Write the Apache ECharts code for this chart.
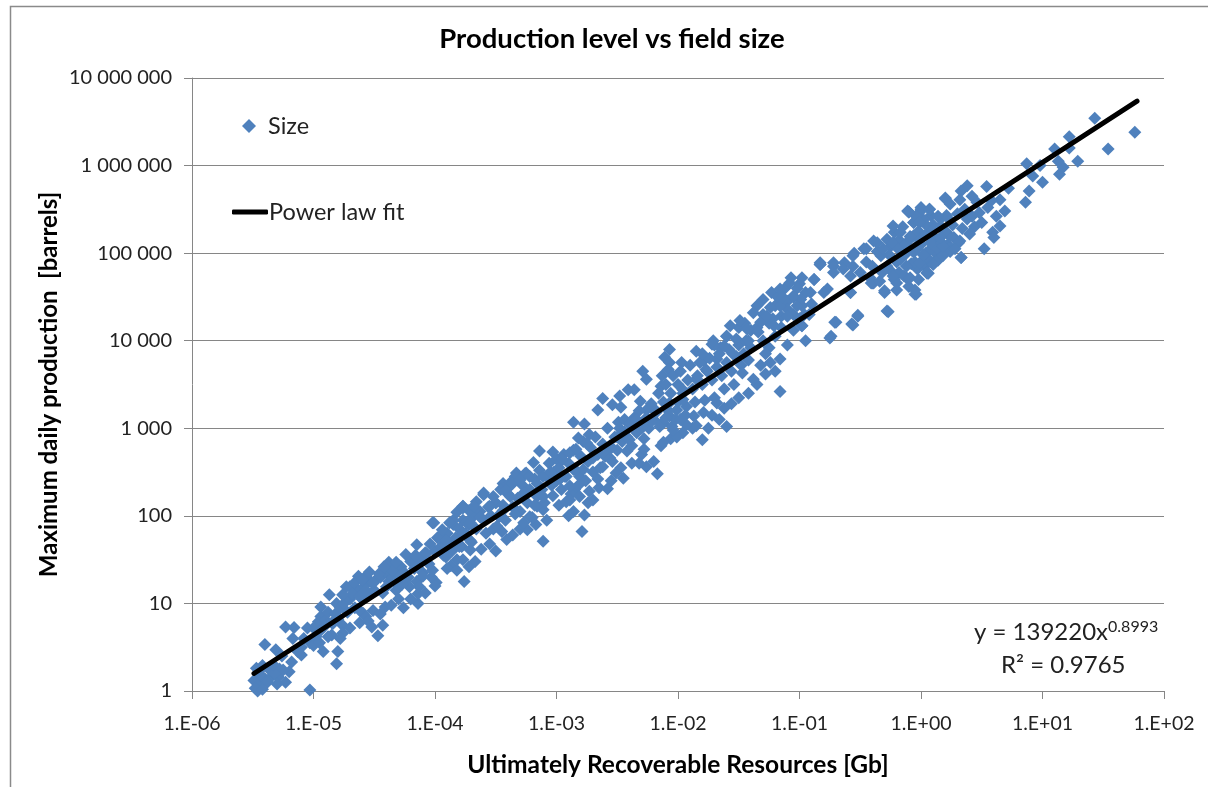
<!DOCTYPE html>
<html><head><meta charset="utf-8">
<style>html,body{margin:0;padding:0;background:#fff}#c{width:1208px;height:787px}</style>
<script src="https://cdn.jsdelivr.net/npm/echarts@6/dist/echarts.min.js"></script>
</head><body><div id="c"></div>
<script>
// Every pair is [log10(resources in Gb), log10(barrels per day)].
const tinyFields = [[-5.46,0],[-5.49,.12],[-5.47,.26],[-5.42,.29],[-5.44,.08],[-5.40,.14],[-5.35,.16],[-5.29,.16],[-5.23,.1],[-5.2,.22],[-5.25,.24],[-5.18,.33],[-5.28,.25],[-5.36,.24],[-5.48,.03],[-5.44,.18],[-5.32,.2],[-5.38,.1],[-5.40,.53],[-5.31,.47],[-5.23,.73],[-5.16,.725],[-5.17,.60],[-5.05,.72],[-5.10,.50],[-5.10,.41],[-5.03,.01],[-4.92,.45],[-4.80,.45],[-4.81,.31],[-5.03,.55],[-4.94,.96],[-4.94,.85],[-4.87,1.10],[-4.81,1.0],[-4.96,.79],[-4.90,.81],[-4.85,.64],[-4.76,.75],[-4.76,.66],[-4.59,.885],[-4.52,.73],[-4.43,.75],[-4.47,.63],[-4.41,.96],[-4.26,.95],[-4.14,1.0],[-4.14,1.11],[-3.99,1.24],[-3.76,1.25],[-3.87,1.43],[-3.67,1.48],[-3.77,1.50],[-4.02,1.92],[-4.15,1.67],[-4.24,1.56],[-4.38,1.47],[-4.63,1.31],[-4.73,1.19],[-3.77,2.11],[-3.66,2.16]];
const smallBand = [[-5.0,.72],[-4.98,.62],[-4.95,.68],[-4.9,.75],[-4.88,.9],[-4.85,.78],[-4.82,.88],[-4.8,.82],[-4.78,.95],[-4.75,1.0],[-4.72,.9],[-4.7,1.05],[-4.68,1.1],[-4.66,.95],[-4.63,1.15],[-4.6,1.05],[-4.58,1.2],[-4.55,1.1],[-4.53,1.25],[-4.5,1.15],[-4.48,1.28],[-4.45,1.3],[-4.43,1.12],[-4.4,1.35],[-4.38,1.25],[-4.35,1.3],[-4.33,1.38],[-4.3,1.2],[-4.28,1.42],[-4.25,1.35],[-4.22,1.3],[-4.2,1.48],[-4.17,1.4],[-4.15,1.25],[-4.12,1.5],[-4.1,1.35],[-4.08,1.58],[-4.05,1.45],[-4.03,1.3],[-4.0,1.6],[-3.98,1.75],[-3.95,1.65],[-3.93,1.55],[-3.9,1.8],[-3.88,1.7],[-3.86,1.6],[-3.85,1.9],[-3.83,1.75],[-3.8,1.85],[-3.78,1.65],[-3.77,1.95],[-3.75,1.8],[-3.72,1.9],[-3.7,1.7],[-3.68,2.0],[-3.66,1.85],[-3.63,2.05],[-3.6,1.95],[-3.58,1.8],[-3.56,2.1],[-3.54,2.0],[-3.52,1.85],[-3.5,2.15]];
const smallCore = [[-4.7,1.19],[-4.68,1.11],[-4.76,1.1],[-4.62,1.08],[-4.57,1.31],[-4.51,1.23],[-4.57,1.15],[-4.46,1.34],[-4.35,1.38],[-4.29,1.31],[-4.4,1.19],[-4.24,1.27],[-4.18,1.46],[-4.07,1.57],[-3.96,1.76],[-3.85,1.95],[-3.74,1.92],[-3.69,1.99],[-3.91,1.72],[-3.8,1.65],[-3.71,1.72],[-3.77,1.8],[-4.51,.92],[-4.57,.85],[-4.62,.92],[-4.84,.77],[-4.13,1.19],[-4.1,1.31],[-4.32,1.15],[-4.21,1.19],[-4.02,1.38],[-3.91,1.53],[-3.82,1.5],[-3.71,1.61],[-4.66,1.24],[-4.6,1.27],[-4.54,1.36],[-4.42,1.42],[-4.32,1.47],[-4.27,1.22],[-4.16,1.55],[-4.04,1.68],[-3.94,1.84],[-3.82,2.04],[-3.72,2.06]];
const lowerEdge = [[-5.33,.3],[-5.26,.4],[-5.13,.45],[-5.08,.6],[-5.0,.52],[-5.45,.22],[-5.42,.02],[-5.3,.08],[-4.95,.55],[-4.88,.62],[-4.78,.6],[-4.7,.72],[-4.62,.78],[-4.55,.8],[-4.45,.88],[-4.36,.98],[-4.3,1.05],[-4.2,1.05],[-4.08,1.12],[-4.0,1.2],[-3.9,1.4],[-3.82,1.38],[-3.72,1.42],[-3.62,1.62],[-3.55,1.68],[-3.5,1.6],[-3.45,1.82],[-3.3,1.85],[-3.17,1.9],[-3.08,1.95],[-2.98,2.12],[-2.7,2.18],[-2.65,2.32],[-2.55,2.4],[-2.47,2.55],[-2.38,2.6],[-2.3,2.7],[-2.2,2.62],[-2.14,2.8],[-2.06,2.88],[-1.96,2.95],[-1.88,3.0],[-1.72,3.15],[-1.66,3.1],[-1.56,3.28],[-1.5,3.35],[-1.42,3.4],[-1.35,3.5],[-1.28,3.62],[-1.2,3.65],[-.25,4.8],[-.18,4.78],[-.12,4.72],[-.08,4.88],[-.02,4.7],[.03,4.85],[.07,4.92],[.12,5.0],[.18,5.02],[.22,5.1],[.27,5.18],[.34,5.28],[.4,5.22],[.44,5.3],[-.2,4.58],[-.1,4.62]];
const midBand = [[-4.01,1.92],[-3.88,1.92],[-3.77,2.11],[-3.6,2.26],[-3.44,2.37],[-3.33,2.49],[-3.25,2.49],[-3.36,1.78],[-3.24,1.84],[-3.41,1.73],[-3.11,1.71],[-2.79,1.82],[-2.90,2.0],[-2.77,2.01],[-2.58,2.31],[-2.66,2.42],[-2.45,2.43],[-2.51,2.49],[-2.17,2.48],[-2.26,2.56],[-2.32,2.60],[-2.28,2.76],[-2.12,2.84],[-2.01,2.90],[-1.80,2.87],[-1.75,3.0],[-1.60,3.02],[-1.85,3.03],[-1.93,3.04],[-3.03,2.73],[-3.14,2.74],[-3.19,2.61],[-2.86,3.07],[-2.77,3.05],[-2.73,2.93],[-2.82,2.89],[-2.66,3.21],[-2.62,3.34],[-2.49,3.07],[-2.54,3.27],[-2.47,3.24],[-2.48,3.37],[-2.41,3.44],[-2.36,3.44],[-2.31,3.31],[-2.26,3.21],[-2.29,3.65],[-2.26,3.56],[-2.14,3.48],[-2.13,3.6],[-2.07,3.9],[-2.11,3.81],[-2.07,3.75],[-1.97,3.75],[-1.85,3.88],[-2.08,3.67],[-1.79,3.77],[-1.72,3.96],[-1.65,3.92],[-1.6,4.05],[-2.07,3.14],[-2.01,3.21],[-1.93,3.25],[-2.12,3.06],[-2.05,3.02],[-1.79,3.18],[-1.68,3.29],[-1.62,3.23],[-1.87,3.14],[-3.11,2.07],[-3.03,2.23],[-2.92,2.16],[-2.86,2.05],[-2.73,2.28],[-2.74,2.15],[-2.85,2.3],[-2.93,2.45],[-2.81,2.45],[-2.62,2.56],[-2.56,2.66],[-2.42,2.74]];
const midFill = [[-3.5,2.15],[-3.48,2.0],[-3.46,2.3],[-3.44,2.12],[-3.42,1.95],[-3.4,2.25],[-3.38,2.38],[-3.36,2.1],[-3.34,2.45],[-3.32,2.2],[-3.3,2.05],[-3.28,2.35],[-3.26,2.48],[-3.24,2.15],[-3.22,2.3],[-3.2,1.98],[-3.18,2.42],[-3.16,2.22],[-3.14,2.52],[-3.12,2.3],[-3.1,2.15],[-3.08,2.45],[-3.06,2.6],[-3.04,2.35],[-3.02,2.5],[-3.0,2.65],[-3.0,2.4],[-2.98,2.55],[-2.96,2.3],[-2.94,2.7],[-2.92,2.45],[-2.9,2.6],[-2.88,2.25],[-2.86,2.75],[-2.84,2.52],[-2.82,2.35],[-2.8,2.68],[-2.78,2.85],[-2.76,2.4],[-2.74,2.62],[-2.72,2.78],[-2.7,2.5],[-2.68,2.9],[-2.66,2.7],[-2.64,2.55],[-2.62,2.82],[-2.6,2.68],[-2.58,3.0],[-2.56,2.8],[-2.54,2.62],[-2.52,2.9],[-2.5,2.75],[-2.48,3.0],[-2.46,2.85],[-2.44,3.1],[-2.42,2.9],[-2.4,3.05],[-2.38,2.8],[-2.36,3.12],[-2.34,2.95],[-2.32,3.2],[-2.3,3.0],[-2.28,2.88],[-2.26,3.12],[-2.24,3.0],[-2.22,3.28],[-2.2,3.1],[-2.18,3.2],[-2.16,3.4],[-2.14,3.05],[-2.12,3.3],[-2.1,3.5],[-2.08,3.2],[-2.06,3.4],[-2.04,3.6],[-2.02,3.1],[-2.0,3.3],[-2.0,3.5],[-1.98,3.65],[-1.96,3.4],[-1.94,3.15],[-1.92,3.55]];
const midCore = [[-3.77,2.09],[-3.68,2.11],[-3.6,2.24],[-3.55,2.11],[-3.63,1.99],[-3.71,1.92],[-3.49,1.88],[-3.47,1.99],[-3.41,2.3],[-3.36,2.37],[-3.3,2.41],[-3.22,2.45],[-3.38,2.22],[-3.27,2.26],[-3.16,2.37],[-3.11,2.45],[-3.22,1.99],[-3.27,1.92],[-3.16,2.11],[-3.11,2.22],[-2.95,2.64],[-2.89,2.72],[-2.84,2.76],[-2.75,2.83],[-2.86,2.53],[-2.78,2.53],[-2.89,2.34],[-2.81,2.22],[-2.89,2.18],[-2.56,2.76],[-2.4,2.87],[-2.29,3.02],[-2.18,3.18],[-2.07,3.29],[-1.96,3.44],[-1.85,3.56],[-1.77,3.67],[-1.68,3.79],[-2.15,3.02],[-2.04,2.98],[-1.96,3.33],[-3.52,2.22],[-3.44,2.06],[-3.34,2.02],[-3.18,2.12],[-3.05,2.5],[-2.97,2.42],[-2.7,2.66],[-2.62,2.72],[-2.5,2.9],[-2.44,2.96],[-2.34,3.1],[-2.22,3.08],[-2.1,3.12],[-1.98,3.1]];
const upperBand = [[-1.9,3.72],[-1.88,3.45],[-1.86,3.3],[-1.84,3.6],[-1.82,3.75],[-1.8,3.5],[-1.78,3.32],[-1.76,3.65],[-1.74,3.8],[-1.72,3.55],[-1.7,3.35],[-1.68,3.7],[-1.66,3.85],[-1.64,3.6],[-1.62,3.45],[-1.6,3.75],[-1.58,3.9],[-1.56,3.65],[-1.54,3.5],[-1.52,3.82],[-1.5,3.95],[-1.48,3.72],[-1.46,3.85],[-1.44,4.0],[-1.42,3.78],[-1.4,3.92],[-1.8,3.85],[-1.7,3.95],[-1.6,4.05],[-1.5,4.15],[-1.45,4.2],[-1.4,4.12],[-1.35,4.15],[-1.3,4.3],[-1.25,4.2],[-1.2,4.4],[-1.15,4.28],[-1.1,4.45],[-1.05,4.5],[-1.05,4.3],[-1,4.65],[-.98,4.4],[-.95,4.55],[-.92,4.3],[-1.38,3.56],[-1.47,3.63],[-1.16,3.79],[-1.24,3.75],[-1.32,3.72],[-1.16,3.42],[-.98,4.17],[-.74,4.05],[-.70,4.21],[-.56,4.18],[-.52,4.28],[-.27,4.33],[-.04,4.53],[.06,4.77],[-.10,5.47],[-.30,4.55],[-.40,4.66],[-.58,4.55],[-.83,4.87],[-1.35,4.4],[-1.23,4.55],[-1.07,4.72],[-.88,4.7],[-.99,4.47],[-1.1,4.36],[-.91,4.55],[-.83,4.89],[-.72,4.89],[-.63,4.89],[-.55,5.0],[-.47,5.05],[-.39,5.14],[-.72,4.78],[-.58,4.74],[-.77,4.59],[-.33,4.97],[-.22,5.24],[-.11,5.05],[0,5.5],[.08,5.43],[-.14,4.74],[-.22,4.7],[-.39,4.66],[-.17,4.93],[-.03,5.05],[.11,4.89],[-.03,4.82],[-.28,4.85],[-1.3,4.0],[-1.25,3.92],[-1.2,4.05],[-1.15,4.15],[-1.1,3.95],[-1.05,4.12],[-1.0,4.25],[-.95,4.0],[-.9,4.42],[-1.28,3.85],[-1.22,4.25],[-1.12,4.6],[-1.18,4.5],[-1.02,4.6],[-.5,4.78],[-.45,4.9],[-.42,4.72],[-.36,5.02],[-.32,4.78],[-.25,5.08],[-.2,4.9],[-.18,5.15],[-.15,5.3],[-.12,5.0],[-.08,5.18],[-.06,5.35],[-.05,4.9],[-.02,5.25],[0,5.1],[.02,5.38],[.04,5.0],[.06,5.22],[.08,5.05],[.1,5.32],[.12,5.15]];
const upperCore = [[.2,5.62],[-.11,5.48],[-.01,5.47],[.07,5.5],[.21,5.43],[-.23,5.31],[-.17,5.24],[-.06,5.35],[.05,5.31],[.16,5.31],[-.36,5.12],[-.45,5.05],[-.28,5.16],[-.23,5.12],[-.12,5.12],[-.06,5.2],[-.01,5.16],[.1,5.2],[.21,5.24],[.32,5.14],[-.56,4.97],[-.56,4.85],[-.83,4.87],[-.72,4.85],[-.64,4.82],[-.88,4.7],[-.98,4.72],[-1.08,4.66],[-1.16,4.59],[-1.3,4.47],[-1.38,4.32],[-1.49,4.23],[-1.57,4.17],[-1.71,4.0],[-1.05,4.51],[-1.02,4.4],[-1.16,4.4],[-1.1,4.28],[-1.21,4.17],[-1.32,4.21],[-1.27,4.28],[-1.43,4.13],[-1.52,4.02],[-1.62,3.94],[-.8,4.55],[-.58,4.55],[-.41,4.66],[-.3,4.57],[-.2,4.66],[-.23,4.74],[-.12,4.85],[-.01,4.89],[.1,4.89],[.16,4.97],[.33,4.95],[.05,4.78],[-.17,4.93],[-.06,5.01],[.13,5.06],[-.05,4.53],[-.28,4.34],[-.98,4.17],[-.75,4.03],[-.57,4.19],[-.52,4.29],[-.71,4.21],[-.4,4.85],[-.34,4.68],[-.26,4.98],[-.14,5.08],[-.09,4.72],[.02,4.98],[.08,5.12],[.14,4.92],[-.19,5.05],[-.31,5.05],[-.04,5.42],[.03,5.2],[.17,5.12],[.24,5.02],[-.96,4.3],[-1.14,4.5],[-1.24,4.38],[-1.34,4.1],[-1.42,4.0],[-1.55,3.85]];
const giantFields = [[1.76,6.38],[1.54,6.19],[1.43,6.54],[1.22,6.33],[1.22,6.2],[1.10,6.19],[1.29,6.05],[1.14,5.9],[1.17,5.98],[1.13,6.05],[.98,6.0],[.87,6.02],[.92,5.88],[1.0,5.81],[.89,5.71],[.86,5.58],[.72,5.74],[.65,5.61],[.69,5.48],[.65,5.31],[.59,5.24],[.6,5.18],[.52,5.05],[.33,4.95],[.18,4.97],[.05,4.77],[.54,5.76],[.38,5.77],[.33,5.71],[.42,5.65],[.2,5.63],[.24,5.56],[-.1,5.47],[.0,5.52],[.07,5.5],[.32,5.61],[.55,5.52],[.48,5.46],[.38,5.39],[.31,5.12],[.18,5.08],[.24,5.19],[.1,5.27],[.16,5.39],[-.01,5.35],[-.09,5.19],[-.04,5.08],[.1,4.87],[-.05,4.58],[.14,5.42],[.2,5.25],[.26,5.32],[.3,5.45],[.36,5.5],[.42,5.42],[.46,5.58],[.5,5.35],[.58,5.6],[.62,5.42],[.28,5.05],[.16,5.18],[.22,5.4]];
const trendEnds = [[-5.49, 0.2], [1.778, 6.737]];
const xTicks = ['1.E-06','1.E-05','1.E-04','1.E-03','1.E-02','1.E-01','1.E+00','1.E+01','1.E+02'];
const yTicks = ['1','10','100','1 000','10 000','100 000','1 000 000','10 000 000'];
const FONT = 'Lato';
const toValue = p => [Math.pow(10, p[0]), Math.pow(10, p[1])];
const fields = [...tinyFields, ...smallBand, ...smallCore, ...lowerEdge, ...midBand, ...midFill, ...midCore, ...upperBand, ...upperCore, ...giantFields].map(toValue);
const chart = echarts.init(document.getElementById('c'), null, {renderer:'canvas', width:1208, height:787});
const AXC = '#868686';
chart.setOption({
  animation:false,
  backgroundColor:'#fff',
  title:{text:'Production level vs field size',left:607,top:20,textAlign:'center',textStyle:{fontFamily:FONT,fontSize:27.5,fontWeight:'bold',color:'#000'}},
  legend:[
    {data:[{name:'Size',icon:'diamond'}],left:237,top:109,itemWidth:14,itemHeight:14,itemGap:0,textStyle:{fontFamily:FONT,fontSize:23.5,color:'#222',padding:[0,0,0,7]}},
    {data:[{name:'Power law fit',icon:'roundRect'}],left:227,top:195,itemWidth:36,itemHeight:5,textStyle:{fontFamily:FONT,fontSize:23.5,color:'#222',padding:[0,0,0,-4]}}
  ],
  grid:{left:192,right:44,top:78,bottom:96,containLabel:false},
  xAxis:{type:'log',logBase:10,min:1e-6,max:100,interval:1,
    name:'Ultimately Recoverable Resources [Gb]',nameLocation:'middle',nameGap:62,
    nameTextStyle:{fontFamily:FONT,fontSize:24.5,fontWeight:'bold',color:'#000'},
    axisLine:{show:true,onZero:false,lineStyle:{color:AXC,width:1}},
    axisTick:{show:true,length:8,lineStyle:{color:AXC}},
    minorTick:{show:false},minorSplitLine:{show:false},splitLine:{show:false},
    axisLabel:{margin:23,fontFamily:FONT,fontSize:19.5,color:'#222',hideOverlap:false,showMinLabel:true,showMaxLabel:true,
      formatter:v=>xTicks[Math.round(Math.log10(v))+6]}},
  yAxis:{type:'log',logBase:10,min:1,max:1e7,interval:1,
    name:'Maximum daily production  [barrels]',nameLocation:'middle',nameGap:131,nameMoveOverlap:false,
    nameTextStyle:{fontFamily:FONT,fontSize:24,fontWeight:'bold',color:'#000'},
    axisLine:{show:true,onZero:false,lineStyle:{color:AXC,width:1}},
    axisTick:{show:true,length:8,lineStyle:{color:AXC}},
    minorTick:{show:false},minorSplitLine:{show:false},splitLine:{show:true,lineStyle:{color:AXC,width:1}},
    axisLabel:{margin:20,fontFamily:FONT,fontSize:20,color:'#222',showMinLabel:true,showMaxLabel:true,
      formatter:v=>yTicks[Math.round(Math.log10(v))]}},
  series:[
    {name:'Size',type:'scatter',symbol:'diamond',symbolSize:13,itemStyle:{color:'#4F81BD',opacity:1},data:fields,z:2,large:false},
    {name:'Power law fit',type:'line',symbol:'none',showSymbol:false,data:trendEnds.map(toValue),z:3,lineStyle:{color:'#000',width:5,cap:'round'},itemStyle:{color:'#000'}}
  ],
  graphic:[
    {type:'rect',silent:true,z:-10,shape:{x:10.5,y:6.5,width:1300,height:900},style:{fill:'none',stroke:'#8a8a8a',lineWidth:1.5}},
    {type:'text',silent:true,left:974,top:619,style:{rich:{n:{fontFamily:FONT,fontSize:24,fill:'#222'},s:{fontFamily:FONT,fontSize:16,fill:'#222',verticalAlign:'top',padding:[0,0,10,0]}},text:'{n|y = 139220x}{s|0.8993}',fontFamily:FONT}},
    {type:'text',silent:true,left:1001,top:653,style:{text:'R² = 0.9765',fontFamily:FONT,fontSize:24,fill:'#222'}}
  ]
});
</script></body></html>
